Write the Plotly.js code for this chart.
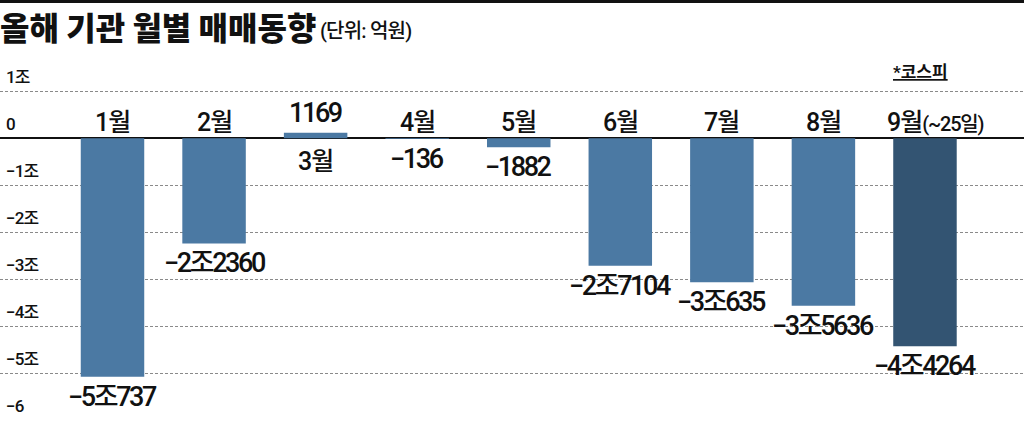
<!DOCTYPE html>
<html>
<head>
<meta charset="utf-8">
<script src="https://cdn.plot.ly/plotly-3.0.1.min.js"></script>
<style>
  html, body { margin: 0; padding: 0; background: #ffffff; }
  #chart { width: 1024px; height: 421px; }
</style>
</head>
<body>
<div id="chart"></div>
<script>
// ---- data (unit: 억원) ----
const months = ['1월', '2월', '3월', '4월', '5월', '6월', '7월', '8월', '9월'];
const values = [-50737, -22360, 1169, -136, -1882, -27104, -30635, -35636, -44264];
const valueLabels = ['−5조737', '−2조2360', '1169', '−136', '−1882', '−2조7104', '−3조635', '−3조5636', '−4조4264'];
const yTickVals = [10000, 0, -10000, -20000, -30000, -40000, -50000, -60000];
const yTickText = ['1조', '0', '−1조', '−2조', '−3조', '−4조', '−5조', '−6'];
const titleText = '올해 기관 월별 매매동향';
const unitText = '(단위: 억원)';
const noteText = '*코스피';
const lastMonthSuffix = '(~25일)';

// ---- styling ----
const H = 421;
const narrow = 'Roboto, "Liberation Sans", "Noto Sans CJK KR", sans-serif';
const cjk = '"Noto Sans CJK KR", "Noto Sans", sans-serif';
const barColor = '#4B79A3';
const lastColor = '#335472';

function tight(s, px) { return '<span style="letter-spacing:' + px + 'px">' + s + '</span>'; }

const xs = months.map((m, i) => i);
const colors = months.map((m, i) => i === months.length - 1 ? lastColor : barColor);

const trace = {
  type: 'bar',
  x: xs,
  y: values,
  width: 0.625,
  marker: { color: colors, line: { width: 0 } },
  hoverinfo: 'skip'
};

const annotations = [];

// title + unit
annotations.push({
  xref: 'paper', yref: 'paper', x: 0, y: 1 - 26 / H, xanchor: 'left', yanchor: 'middle',
  text: titleText, showarrow: false,
  font: { family: cjk, size: 32, color: '#111', weight: 900 }, xshift: -2
});
annotations.push({
  xref: 'paper', yref: 'paper', x: 318 / 1024, y: 1 - 31 / H, xanchor: 'left', yanchor: 'middle',
  text: tight(unitText, -0.8), showarrow: false,
  font: { family: narrow, size: 20, color: '#111', weight: 500 }
});
annotations.push({
  xref: 'paper', yref: 'paper', x: 891 / 1024, y: 1 - 72 / H, xanchor: 'left', yanchor: 'middle',
  text: '<span style="text-decoration:underline">' + noteText + '</span>', showarrow: false,
  font: { family: narrow, size: 17, color: '#111', weight: 700 }
});

// y tick labels (drawn above each grid line)
yTickVals.forEach((v, i) => {
  annotations.push({
    xref: 'paper', yref: 'y', x: 0, y: v, xanchor: 'left', yanchor: 'middle',
    xshift: 4, yshift: 14, text: tight(yTickText[i], -0.8), showarrow: false,
    font: { family: narrow, size: 17, color: '#111', weight: 500 }
  });
});

// month + value labels
months.forEach((m, i) => {
  const v = values[i];
  const isLast = i === months.length - 1;
  const mText = isLast ? tight(m, -1) + '<span style="font-size:20px;letter-spacing:-1.2px">' + lastMonthSuffix + '</span>' : tight(m, -1);
  annotations.push({
    xref: 'x', yref: 'y', x: xs[i], y: 0, xanchor: 'center', yanchor: 'middle',
    xshift: isLast ? 11 : 0, yshift: v < 0 ? 16 : -23,
    text: mText, showarrow: false,
    font: { family: narrow, size: 25, color: '#111', weight: 500 }
  });
  annotations.push({
    xref: 'x', yref: 'y', x: xs[i], y: v, xanchor: 'center', yanchor: 'middle',
    yshift: v < 0 ? -20 : 20,
    text: tight(valueLabels[i], -2.4), showarrow: false,
    font: { family: narrow, size: 27, color: '#111', weight: 500 }
  });
});

const layout = {
  width: 1024, height: H,
  margin: { l: 0, r: 0, t: 0, b: 0, pad: 0 },
  paper_bgcolor: '#ffffff', plot_bgcolor: '#ffffff',
  showlegend: false,
  xaxis: {
    range: [-1.1077, 8.975], visible: false, fixedrange: true
  },
  yaxis: {
    range: [-60150, 29424],
    tickvals: yTickVals,
    showticklabels: false,
    ticks: '',
    showgrid: true, gridcolor: '#8a8a8a', gridwidth: 1, griddash: '3px,2px',
    zeroline: true, zerolinecolor: '#111', zerolinewidth: 1.6,
    fixedrange: true
  },
  shapes: [
    { type: 'rect', xref: 'paper', yref: 'paper', x0: 0, x1: 1, y0: 1 - 3 / H, y1: 1,
      fillcolor: '#111', line: { width: 0 } }
  ],
  annotations: annotations
};

Plotly.newPlot('chart', [trace], layout, { displayModeBar: false, staticPlot: true });
</script>
</body>
</html>
